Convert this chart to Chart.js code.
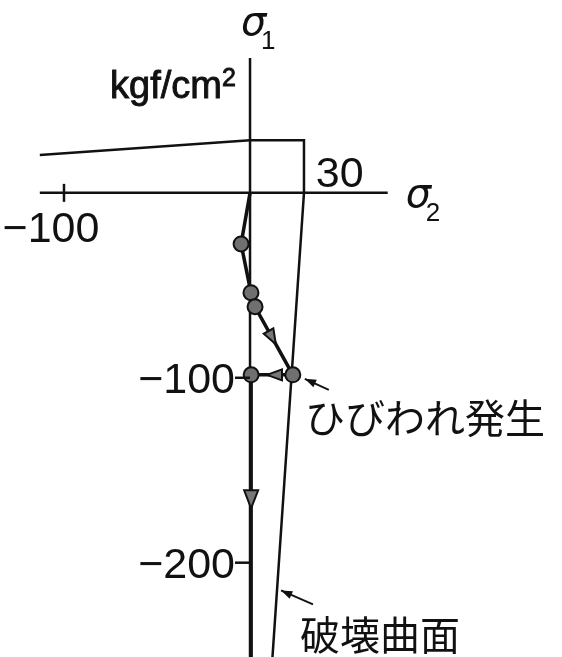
<!DOCTYPE html>
<html lang="ja">
<head>
<meta charset="utf-8">
<script src="https://cdn.jsdelivr.net/npm/chart.js@4.4.1/dist/chart.umd.min.js"></script>
<style>
  html, body { margin: 0; padding: 0; background: #fff; }
  #wrap { width: 562px; height: 657px; position: relative; }
</style>
</head>
<body>
<div id="wrap"><canvas id="myChart"></canvas></div>
<script>
// stress plane, kgf/cm2
const sigma2Axis = [-113, 74]
const sigma1Axis = [73, -252]
const sigma2Ticks = [-100]
const sigma1Ticks = [-100, -200]
const tensileMark = 30

// failure envelope (破壊曲面)
const envelopeS2 = [-113, 0, 29, 29, 12]
const envelopeS1 = [20.5, 28.5, 28.5, 0, -252]

// loading path; index 4 is where cracking starts
const pathS2 = [0, -4.8, 0.5, 2.7, 23, 0.6, 0.6]
const pathS1 = [0, -27.6, -54, -61.6, -98.4, -98.4, -252]
const crackIndex = 4

const xy = (xs, ys) => xs.map((v, i) => ({ x: v, y: ys[i] }))

const ink = '#111'

const annotate = {
	id: 'annotate',
	afterDatasetsDraw(chart) {
		const c = chart.ctx
		const sx = chart.scales.x, sy = chart.scales.y
		const px = v => sx.getPixelForValue(v)
		const py = v => sy.getPixelForValue(v)

		c.save()
		c.strokeStyle = ink
		c.fillStyle = ink
		c.lineCap = 'butt'

		// tick marks
		c.lineWidth = 2.5
		sigma2Ticks.forEach(t => {
			c.beginPath()
			c.moveTo(px(t), py(0) - 9)
			c.lineTo(px(t), py(0) + 9)
			c.stroke()
		})
		sigma1Ticks.forEach(t => {
			c.beginPath()
			c.moveTo(px(0) - 15, py(t))
			c.lineTo(px(0), py(t))
			c.stroke()
		})

		// tick labels
		c.font = '43px "Liberation Sans", Arial, sans-serif'
		c.textBaseline = 'alphabetic'
		c.textAlign = 'center'
		sigma2Ticks.forEach(t => {
			c.fillText('\u2212' + Math.abs(t), px(t) - 13, py(0) + 49)
		})
		c.textAlign = 'right'
		sigma1Ticks.forEach(t => {
			c.fillText('\u2212' + Math.abs(t), px(0) - 15, py(t) + 15)
		})
		c.textAlign = 'left'
		c.fillText(String(tensileMark), px(tensileMark) + 10, py(0) - 6)

		// unit
		c.textAlign = 'right'
		c.lineWidth = 0.9
		c.font = '38px "Liberation Sans", Arial, sans-serif'
		c.fillText('kgf/cm', px(0) - 28, 98)
		c.strokeText('kgf/cm', px(0) - 28, 98)
		c.font = '25px "Liberation Sans", Arial, sans-serif'
		c.fillText('2', px(0) - 14, 86)
		c.strokeText('2', px(0) - 14, 86)

		// axis names
		const sigma = (x, y, sub) => {
			c.textAlign = 'left'
			c.font = 'italic 40px "DejaVu Sans", sans-serif'
			c.fillText('\u03c3', x, y)
			c.font = '26px "Liberation Sans", Arial, sans-serif'
			c.fillText(sub, x + 20, y + 14)
		}
		sigma(px(0) - 9, 35, '1')
		sigma(px(sigma2Axis[1]) + 18, 207, '2')

		// direction arrows along the loading path
		const head = (i, frac, len, half) => {
			const x0 = px(pathS2[i]), y0 = py(pathS1[i])
			const x1 = px(pathS2[i + 1]), y1 = py(pathS1[i + 1])
			const d = Math.hypot(x1 - x0, y1 - y0)
			const ux = (x1 - x0) / d, uy = (y1 - y0) / d
			const tx = x0 + ux * d * frac, ty = y0 + uy * d * frac
			const bx = tx - ux * len, by = ty - uy * len
			c.beginPath()
			c.moveTo(tx, ty)
			c.lineTo(bx - uy * half, by + ux * half)
			c.lineTo(bx + uy * half, by - ux * half)
			c.closePath()
			c.fillStyle = '#777'
			c.fill()
			c.lineWidth = 2
			c.strokeStyle = ink
			c.stroke()
		}
		head(3, 0.55, 15, 5.5)
		head(4, 0.62, 15, 5.5)
		head(5, 0.47, 18, 7)

		// callouts
		const callout = (x0, y0, x1, y1) => {
			const a = Math.atan2(y1 - y0, x1 - x0)
			c.strokeStyle = ink
			c.fillStyle = ink
			c.lineWidth = 1.8
			c.beginPath()
			c.moveTo(x0, y0)
			c.lineTo(x1, y1)
			c.stroke()
			c.beginPath()
			c.moveTo(x1, y1)
			c.lineTo(x1 - 12 * Math.cos(a - 0.35), y1 - 12 * Math.sin(a - 0.35))
			c.lineTo(x1 - 12 * Math.cos(a + 0.35), y1 - 12 * Math.sin(a + 0.35))
			c.closePath()
			c.fill()
		}
		const cx = px(pathS2[crackIndex]), cy = py(pathS1[crackIndex])
		callout(cx + 36, cy + 15, cx + 12, cy + 4)

		const eS1 = -215
		const k = (eS1 - envelopeS1[3]) / (envelopeS1[4] - envelopeS1[3])
		const ex = px(envelopeS2[3] + (envelopeS2[4] - envelopeS2[3]) * k), ey = py(eS1)
		callout(ex + 36, ey + 14, ex + 4, ey)

		c.fillStyle = ink
		c.textAlign = 'left'
		c.font = '40px "Noto Sans CJK JP", sans-serif'
		c.fillText('ひびわれ発生', 305, cy + 58)
		c.fillText('破壊曲面', 300, ey + 60)

		c.restore()
	}
}

new Chart(document.getElementById('myChart'), {
	type: 'scatter',
	data: {
		datasets: [{
			label: 'path',
			data: xy(pathS2, pathS1),
			showLine: true,
			borderColor: ink,
			borderWidth: 3.5,
			pointRadius: pathS2.map((v, i) => (i > 0 && i < pathS2.length - 1) ? 7.5 : 0),
			pointBackgroundColor: '#707070',
			pointBorderColor: ink,
			pointBorderWidth: 2,
			order: 0
		}, {
			label: 'envelope',
			data: xy(envelopeS2, envelopeS1),
			showLine: true,
			borderColor: ink,
			borderWidth: 2.5,
			pointRadius: 0,
			order: 1
		}, {
			label: 'sigma2',
			data: xy(sigma2Axis, [0, 0]),
			showLine: true,
			borderColor: ink,
			borderWidth: 2.5,
			pointRadius: 0,
			order: 2
		}, {
			label: 'sigma1',
			data: xy([0, 0], sigma1Axis),
			showLine: true,
			borderColor: ink,
			borderWidth: 2.5,
			pointRadius: 0,
			order: 2
		}]
	},
	options: {
		responsive: true,
		maintainAspectRatio: false,
		animation: false,
		layout: { padding: 0 },
		scales: {
			x: { type: 'linear', display: false, min: -134.4, max: 167.7 },
			y: { type: 'linear', display: false, min: -251, max: 104.3 }
		},
		plugins: {
			legend: { display: false },
			tooltip: { enabled: false }
		}
	},
	plugins: [annotate]
})
</script>
</body>
</html>
